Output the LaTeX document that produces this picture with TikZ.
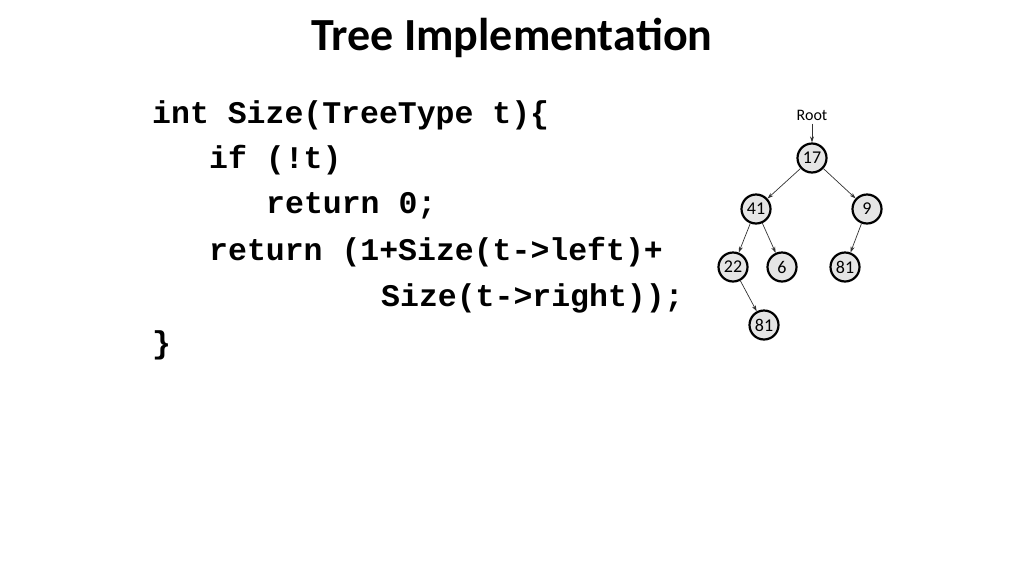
\documentclass[tikz,border=0pt]{standalone}
\usepackage{fontspec}
\usetikzlibrary{arrows.meta}
\setmainfont{Carlito}
\newfontfamily\codefont{Liberation Mono}
\begin{document}
\begin{tikzpicture}[x=1pt,y=-1pt,
  code/.style={anchor=west,inner sep=0pt,font=\codefont\bfseries\fontsize{31.5}{32}\selectfont},
  tn/.style={circle,draw=black,line width=2.2pt,fill=gray!20,minimum size=29pt,inner sep=0pt,font=\fontsize{18}{19}\selectfont},
  ed/.style={draw=gray!40!black,line width=0.7pt,-{Stealth[length=6pt,width=4pt]}}]
\useasboundingbox (0,0) rectangle (1024,576);
\node[font=\bfseries\fontsize{46}{48}\selectfont] (title) at (512,38) {Tree Implementa\kern0pt tion};
\node[code] (c1) at (152,115) {int Size(TreeType t)\{};
\node[code] (c2) at (209,160) {if (!t)};
\node[code] (c3) at (266,206) {return 0;};
\node[code] (c4) at (209,252) {return (1+Size(t->left)+};
\node[code] (c5) at (381,298) {Size(t->right));};
\node[code] (c6) at (152,345) {\}};
\node[font=\fontsize{16}{17}\selectfont] (root) at (812,115) {Root};
\node[tn] (n17) at (812,158) {17};
\node[tn] (n41) at (756,209) {41};
\node[tn] (n9) at (867,209) {9};
\node[tn] (n22) at (733,267) {22};
\node[tn] (n6) at (782,267) {6};
\node[tn] (n81) at (845,267) {81};
\node[tn] (n81b) at (764,325) {81};
\draw[ed] (root) -- (n17);
\draw[ed] (n17) -- (n41);
\draw[ed] (n17) -- (n9);
\draw[ed] (n41) -- (n22);
\draw[ed] (n41) -- (n6);
\draw[ed] (n9) -- (n81);
\draw[ed] (n22) -- (n81b);
\end{tikzpicture}
\end{document}
